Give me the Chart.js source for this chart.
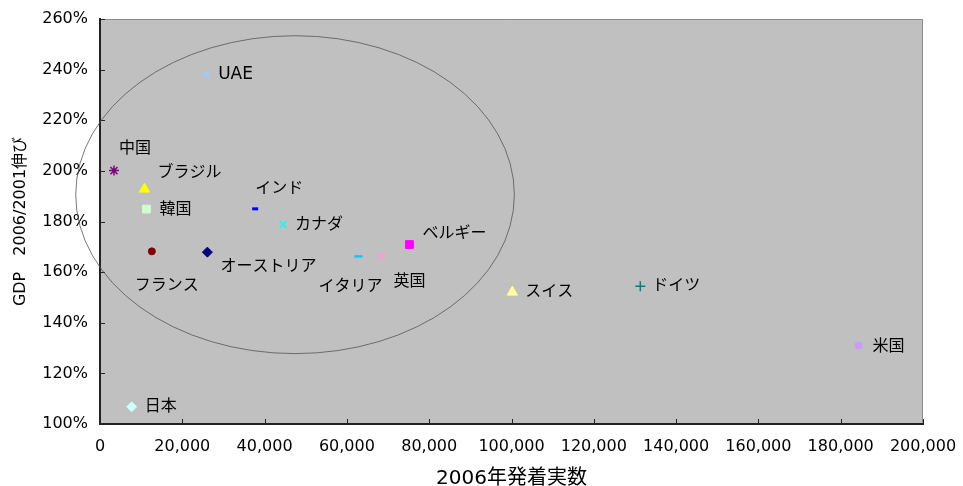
<!DOCTYPE html>
<html>
<head>
<meta charset="utf-8">
<script src="https://cdn.jsdelivr.net/npm/chart.js@4"></script>
<style>
  html, body { margin: 0; padding: 0; background: #fff; }
  #wrap { width: 963px; height: 486px; }
</style>
</head>
<body>
<div id="wrap"><canvas id="chart"></canvas></div>
<script>
// 国別の発着実数とGDP伸び率
const countries = ['UAE', '中国', 'ブラジル', '韓国', 'インド', 'カナダ', 'フランス', 'オーストリア',
                   'イタリア', '英国', 'ベルギー', 'スイス', 'ドイツ', '米国', '日本'];
const flights2006 = [25800, 3400, 10800, 11300, 37700, 44500, 12600, 26100,
                     62800, 68400, 75200, 100200, 131300, 184300, 7700];
const gdpGrowth = [237.9, 200.1, 192.8, 184.9, 185.0, 178.8, 168.2, 167.9,
                   166.2, 166.3, 170.9, 152.1, 154.4, 131.0, 106.8];
const xTicks = [0, 20000, 40000, 60000, 80000, 100000, 120000, 140000, 160000, 180000, 200000];
const yTicks = [100, 120, 140, 160, 180, 200, 220, 240, 260];

// マーカーの形と色
const markerStyles = [
  { style: 'crossRot', color: '#99ccff', r: 5, bw: 1.5 },
  { style: 'star',     color: '#800080', r: 5, bw: 1.5 },
  { style: 'triangle', color: '#ffff00', r: 6, bw: 1 },
  { style: 'rect',     color: '#ccffcc', r: 5.5, bw: 1 },
  { style: 'line',     color: '#0000ff', r: 3, bw: 3 },
  { style: 'crossRot', color: '#00ffff', r: 5, bw: 1.5 },
  { style: 'circle',   color: '#800000', r: 3.5, bw: 1 },
  { style: 'rectRot',  color: '#000080', r: 5, bw: 1 },
  { style: 'line',     color: '#00ccff', r: 4, bw: 2.5 },
  { style: 'crossRot', color: '#ff99cc', r: 5, bw: 1.5 },
  { style: 'rect',     color: '#ff00ff', r: 5.5, bw: 1 },
  { style: 'triangle', color: '#ffff99', r: 6, bw: 1 },
  { style: 'cross',    color: '#008080', r: 5, bw: 1.5 },
  { style: 'circle',   color: '#cc99ff', r: 3.5, bw: 1 },
  { style: 'rectRot',  color: '#ccffff', r: 5, bw: 1 }
];

// ラベルの位置（マーカーからのずれ, px）
const labelOffsets = [
  [12, 0], [5, -22], [13, -16], [13, 1], [0, -20], [12, 0], [-17, 34], [13, 15],
  [-40, 30], [12, 26], [13, -11], [13, 0], [12, 0], [14, 1], [13, 0]
];

// 囲み楕円（データ単位）
const ellipseCenter = [47400, 190.6];
const ellipseRadius = [53300, 62.8];

const mixFont = '"DejaVu Sans", "Noto Sans CJK JP", sans-serif';

const datasets = countries.map((name, i) => ({
  label: name,
  data: [{ x: flights2006[i], y: gdpGrowth[i] }],
  pointStyle: markerStyles[i].style,
  pointRadius: markerStyles[i].r,
  pointHoverRadius: markerStyles[i].r,
  borderWidth: markerStyles[i].bw,
  borderColor: markerStyles[i].color,
  backgroundColor: markerStyles[i].color
}));

// プロットエリアの背景・枠・目盛・楕円・ラベル
const decorPlugin = {
  id: 'decor',
  beforeDraw(chart) {
    const { ctx, chartArea: a } = chart;
    ctx.save();
    ctx.fillStyle = '#c0c0c0';
    ctx.fillRect(a.left, a.top, a.right - a.left, a.bottom - a.top);
    ctx.strokeStyle = '#8a8a8a';
    ctx.lineWidth = 1;
    ctx.beginPath();
    ctx.moveTo(a.left, a.top + 0.5);
    ctx.lineTo(a.right - 0.5, a.top + 0.5);
    ctx.lineTo(a.right - 0.5, a.bottom);
    ctx.stroke();
    ctx.restore();
  },
  beforeDatasetsDraw(chart) {
    const { ctx, chartArea: a, scales: { x, y } } = chart;
    ctx.save();
    // 目盛（内向き）
    ctx.strokeStyle = '#222';
    ctx.lineWidth = 1;
    ctx.beginPath();
    xTicks.forEach(v => {
      const px = Math.round(x.getPixelForValue(v)) + 0.5;
      ctx.moveTo(px, a.bottom);
      ctx.lineTo(px, a.bottom - 5);
    });
    yTicks.forEach(v => {
      const py = Math.round(y.getPixelForValue(v)) + 0.5;
      ctx.moveTo(a.left, py);
      ctx.lineTo(a.left + 5, py);
    });
    ctx.stroke();
    // 楕円
    const cx = x.getPixelForValue(ellipseCenter[0]);
    const cy = y.getPixelForValue(ellipseCenter[1]);
    const rx = x.getPixelForValue(ellipseCenter[0] + ellipseRadius[0]) - cx;
    const ry = cy - y.getPixelForValue(ellipseCenter[1] + ellipseRadius[1]);
    ctx.strokeStyle = '#555';
    ctx.lineWidth = 0.8;
    ctx.beginPath();
    ctx.ellipse(cx, cy, rx, ry, 0, 0, Math.PI * 2);
    ctx.stroke();
    ctx.restore();
  },
  afterDatasetsDraw(chart) {
    const { ctx, scales: { x, y } } = chart;
    ctx.save();
    ctx.fillStyle = '#000';
    ctx.textAlign = 'left';
    ctx.textBaseline = 'middle';
    countries.forEach((name, i) => {
      const px = x.getPixelForValue(flights2006[i]);
      const py = y.getPixelForValue(gdpGrowth[i]);
      ctx.font = (/^[A-Z]+$/.test(name) ? '17px ' : '16px ') + mixFont;
      ctx.fillText(name, px + labelOffsets[i][0], py + labelOffsets[i][1]);
    });
    ctx.restore();
  }
};

new Chart(document.getElementById('chart'), {
  type: 'scatter',
  data: { datasets },
  plugins: [decorPlugin],
  options: {
    responsive: true,
    maintainAspectRatio: false,
    animation: false,
    layout: { padding: { left: 0, right: 40, top: 19, bottom: 0 } },
    plugins: {
      legend: { display: false },
      tooltip: { enabled: false }
    },
    scales: {
      x: {
        type: 'linear',
        min: 0,
        max: 200000,
        afterFit(scale) {
          scale.height = 62;
          scale.paddingLeft = 0;
          scale.paddingRight = 0;
        },
        afterBuildTicks(scale) { scale.ticks = xTicks.map(v => ({ value: v })); },
        grid: { display: false, drawTicks: false },
        border: { display: true, color: '#222', width: 2 },
        ticks: {
          padding: 13,
          color: '#000',
          font: { family: 'DejaVu Sans', size: 16 },
          maxRotation: 0,
          callback: v => v.toLocaleString('en-US')
        },
        title: {
          display: true,
          text: '2006年発着実数',
          color: '#000',
          font: { family: mixFont, size: 20 },
          padding: { top: 0, bottom: -5 }
        }
      },
      y: {
        type: 'linear',
        min: 100,
        max: 260,
        afterFit(scale) {
          scale.width = 100;
          scale.paddingTop = 0;
          scale.paddingBottom = 0;
        },
        afterBuildTicks(scale) { scale.ticks = yTicks.map(v => ({ value: v })); },
        grid: { display: false, drawTicks: false },
        border: { display: true, color: '#222', width: 2 },
        ticks: {
          padding: 12,
          color: '#000',
          font: { family: 'DejaVu Sans', size: 16 },
          callback: v => v + '%'
        },
        title: {
          display: true,
          text: 'GDP　2006/2001伸び',
          color: '#000',
          font: { family: mixFont, size: 16 },
          padding: { top: 11, bottom: 0 }
        }
      }
    }
  }
});
</script>
</body>
</html>
